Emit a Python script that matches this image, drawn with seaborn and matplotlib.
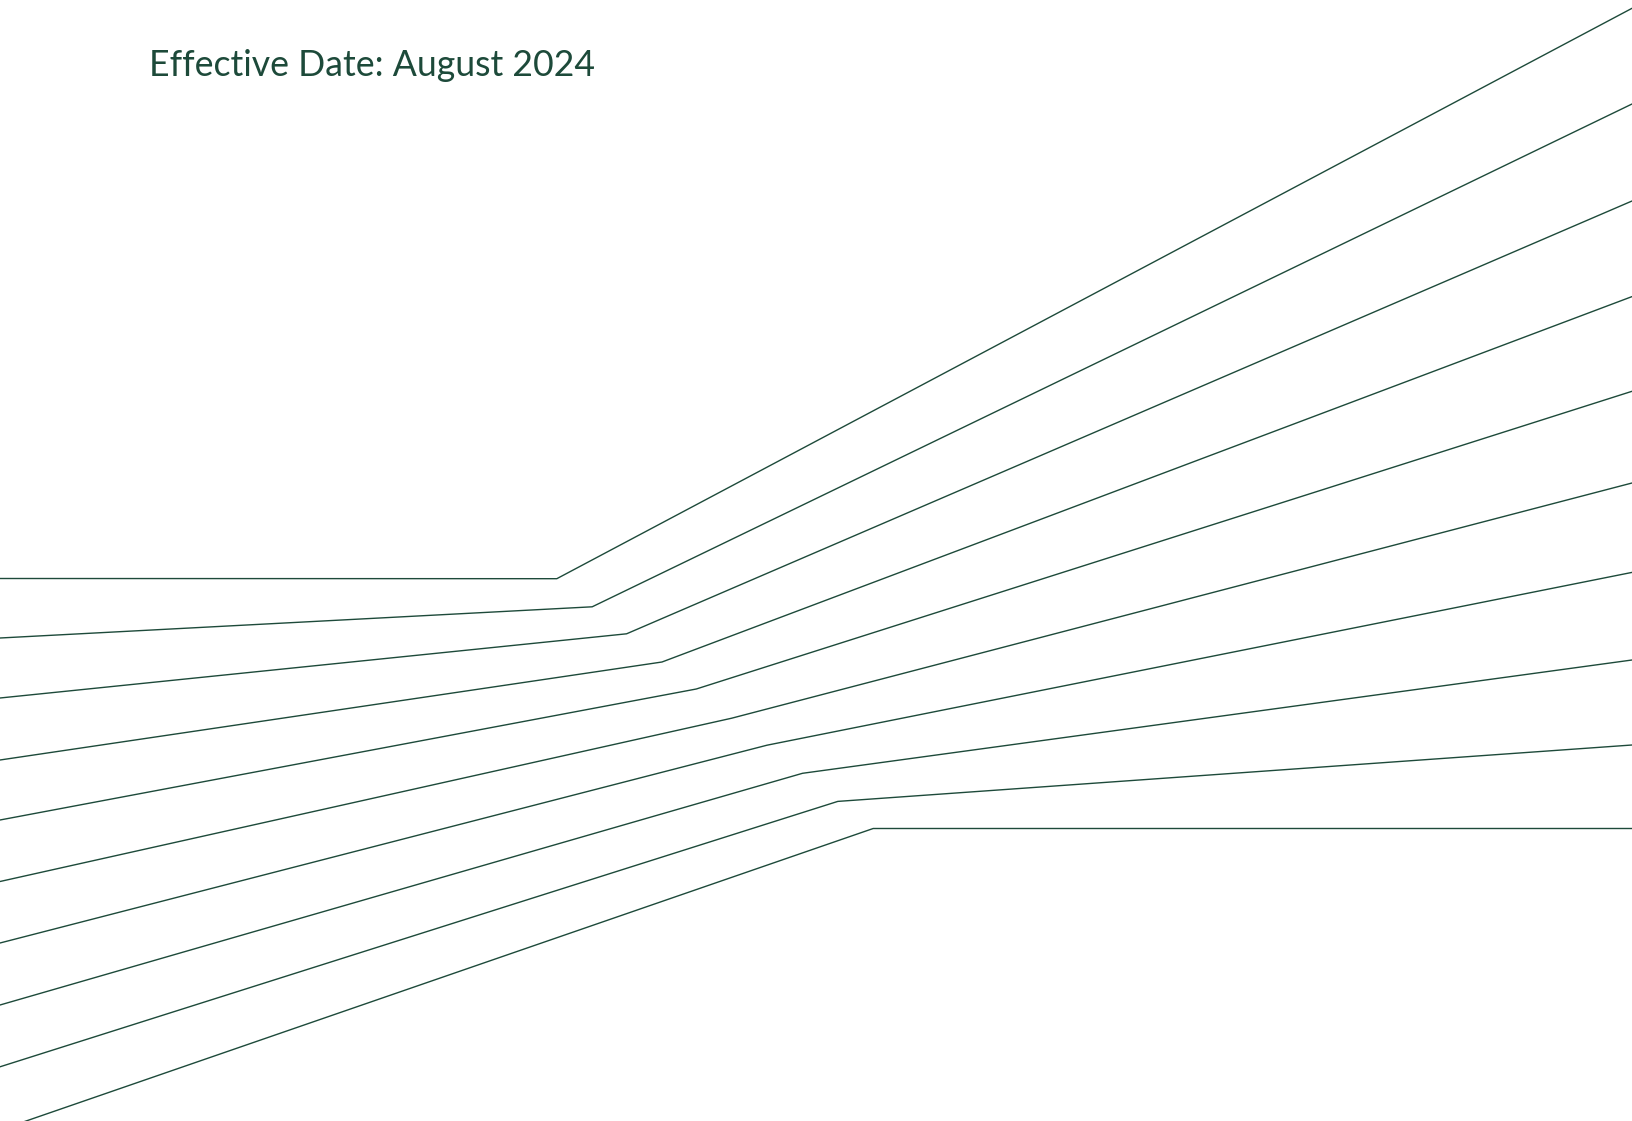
import pandas as pd
import matplotlib
matplotlib.use("Agg")
import matplotlib.pyplot as plt
import seaborn as sns

# -----------------------------
# Data (pixel space, y grows downward)
# -----------------------------
left_y = [578.5, 638, 698, 760, 820, 881.5, 943, 1005, 1066.8, 1130]
kink_x = [556.8, 592.2, 626.6, 662.0, 696.3, 731.7, 767.0, 802.5, 837.8, 873.2]
kink_y = [578.7, 606.8, 633.8, 662.0, 689.0, 718.2, 745.2, 773.3, 801.4, 828.5]
right_y = [8.3, 104, 201, 296.6, 391.3, 483, 572.4, 660, 745, 828.5]

W, H = 1632, 1121
title = "Effective Date: August 2024"
green = "#1d4a3a"

rows = []
for i in range(len(left_y)):
    rows.append({"line": i, "x": 0, "y": left_y[i]})
    rows.append({"line": i, "x": kink_x[i], "y": kink_y[i]})
    rows.append({"line": i, "x": W, "y": right_y[i]})
df = pd.DataFrame(rows)

# -----------------------------
# Plot
# -----------------------------
sns.set_theme(style="white")
plt.rcParams["font.family"] = ["Lato", "DejaVu Sans"]

fig = plt.figure(figsize=(W / 100, H / 100), dpi=100)
ax = fig.add_axes([0, 0, 1, 1])

sns.lineplot(data=df, x="x", y="y", units="line", estimator=None,
             sort=False, color=green, linewidth=1.0, ax=ax)

ax.set_xlim(0, W)
ax.set_ylim(H, 0)
ax.axis("off")

fig.text(149 / W, 1 - 76 / H, title, color=green, fontsize=25.7,
         ha="left", va="baseline")

fig.savefig("out.png", dpi=100, facecolor="white")
